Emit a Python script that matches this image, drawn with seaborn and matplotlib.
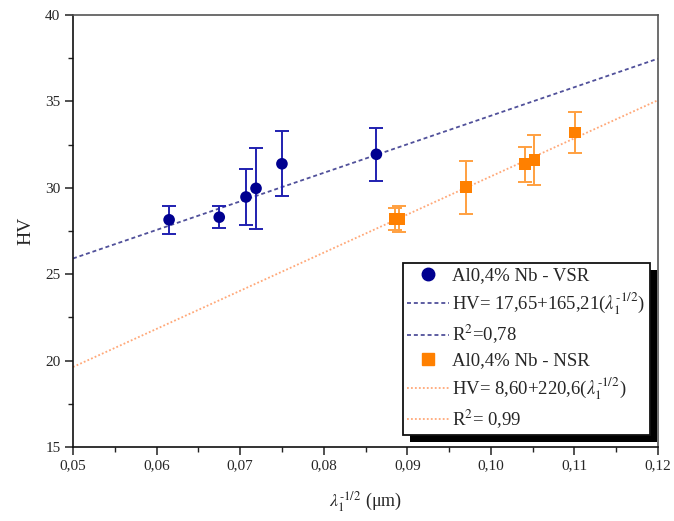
import numpy as np
import pandas as pd
import matplotlib
matplotlib.use("Agg")
import matplotlib.pyplot as plt
from matplotlib.lines import Line2D
from matplotlib.patches import Rectangle
from matplotlib.ticker import MultipleLocator, FuncFormatter
import seaborn as sns

# Hardness vs. inverse square root of primary dendrite arm spacing
vsr_x = [0.0615, 0.0675, 0.0707, 0.0719, 0.0750, 0.0863]
vsr_hv = [28.15, 28.30, 29.47, 29.97, 31.39, 31.94]
vsr_err = [0.80, 0.65, 1.60, 2.33, 1.88, 1.55]

nsr_x = [0.0885, 0.0890, 0.0970, 0.1041, 0.1052, 0.1101]
nsr_hv = [28.19, 28.19, 30.03, 31.36, 31.61, 33.21]
nsr_err = [0.64, 0.77, 1.53, 1.03, 1.42, 1.18]

# Linear fits  HV = a + b * lambda1^(-1/2)
vsr_fit = (17.65, 165.21)
nsr_fit = (8.60, 220.6)

labels = [
    "Al0,4% Nb - VSR",
    r"HV= 17,65+165,21($\lambda_1^{\text{-1/2}}$)",
    r"R$^2$=0,78",
    "Al0,4% Nb - NSR",
    r"HV= 8,60+220,6($\lambda_1^{\text{-1/2}}$)",
    r"R$^2$= 0,99",
]

sns.set_theme(style="ticks")
plt.rcParams["font.family"] = ["Liberation Serif", "DejaVu Serif"]
plt.rcParams["mathtext.fontset"] = "stix"

blue_mk = "#000090"
blue_eb = "#2020b0"
blue_ln = "#50509a"
orange_mk = "#ff8000"
orange_eb = "#ffa040"
orange_ln = "#ffa878"

fig = plt.figure(figsize=(6.74, 5.21), dpi=100)
ax = fig.add_axes([0.1083, 0.1420, 0.8680, 0.8292])

xx = np.array([0.05, 0.12])
fits = pd.DataFrame({
    "x": np.concatenate([xx, xx]),
    "hv": np.concatenate([vsr_fit[0] + vsr_fit[1] * xx, nsr_fit[0] + nsr_fit[1] * xx]),
    "serie": ["VSR"] * 2 + ["NSR"] * 2,
})
sns.lineplot(data=fits[fits.serie == "VSR"], x="x", y="hv", ax=ax, color=blue_ln,
             lw=1.3, linestyle=(0, (2.2, 1.6)), zorder=2)
sns.lineplot(data=fits[fits.serie == "NSR"], x="x", y="hv", ax=ax, color=orange_ln,
             lw=1.3, linestyle=(0, (1, 1.2)), zorder=2)

ax.errorbar(vsr_x, vsr_hv, yerr=vsr_err, fmt="none", ecolor=blue_eb, elinewidth=1.4,
            capsize=5, capthick=1.4, zorder=3)
ax.errorbar(nsr_x, nsr_hv, yerr=nsr_err, fmt="none", ecolor=orange_eb, elinewidth=1.4,
            capsize=5, capthick=1.4, zorder=3)

pts = pd.DataFrame({
    "x": vsr_x + nsr_x,
    "hv": vsr_hv + nsr_hv,
    "serie": ["VSR"] * len(vsr_x) + ["NSR"] * len(nsr_x),
})
sns.scatterplot(data=pts, x="x", y="hv", hue="serie", style="serie",
                palette={"VSR": blue_mk, "NSR": orange_mk},
                markers={"VSR": "o", "NSR": "s"}, s=70, edgecolor="none",
                legend=False, ax=ax, zorder=4)

ax.set_xlim(0.05, 0.12)
ax.set_ylim(15, 40)
ax.xaxis.set_major_locator(MultipleLocator(0.01))
ax.xaxis.set_minor_locator(MultipleLocator(0.005))
ax.yaxis.set_major_locator(MultipleLocator(5))
ax.yaxis.set_minor_locator(MultipleLocator(2.5))
ax.xaxis.set_major_formatter(FuncFormatter(lambda v, p: f"{v:.2f}".replace(".", ",")))
ax.yaxis.set_major_formatter(FuncFormatter(lambda v, p: f"{v:.0f}"))
ax.tick_params(which="major", direction="out", length=5.5, width=1.1, labelsize=11, color="#222222")
ax.tick_params(which="minor", direction="out", length=3.5, width=1.0, color="#222222")
for side in ["left", "bottom"]:
    ax.spines[side].set_color("#111111")
    ax.spines[side].set_linewidth(1.2)
for side in ["top", "right"]:
    ax.spines[side].set_visible(True)
    ax.spines[side].set_color("#555555")
    ax.spines[side].set_linewidth(1.2)

ax.set_ylabel("HV", fontsize=14, labelpad=8)
ax.set_xlabel(r"$\lambda_1^{\text{-1/2}}$ (μm)", fontsize=13, labelpad=12)

handles = [
    Line2D([], [], marker="o", color=blue_mk, linestyle="none", markersize=9),
    Line2D([], [], color=blue_ln, lw=1.3, linestyle=(0, (2.2, 1.6))),
    Line2D([], [], color=blue_ln, lw=1.3, linestyle=(0, (2.2, 1.6))),
    Line2D([], [], marker="s", color=orange_mk, linestyle="none", markersize=8.5),
    Line2D([], [], color=orange_ln, lw=1.3, linestyle=(0, (1, 1.2))),
    Line2D([], [], color=orange_ln, lw=1.3, linestyle=(0, (1, 1.2))),
]
leg = ax.legend(handles, labels, loc="upper left", bbox_to_anchor=(0.5636, 0.4266),
                borderaxespad=0, fontsize=13.5, frameon=True, fancybox=False,
                framealpha=1, edgecolor="#111111", handlelength=2.2,
                handletextpad=0.2, labelspacing=0.32, borderpad=0.25)
leg.get_frame().set_linewidth(1.3)
leg.set_zorder(6)

# solid black drop shadow behind the legend box
fig.canvas.draw()
bb = leg.get_window_extent()
shadow = Rectangle((bb.x0 + 7, bb.y0 - 7), bb.width, bb.height, transform=None,
                   facecolor="black", edgecolor="none", zorder=5.5, clip_on=False)
ax.add_artist(shadow)

fig.savefig("out.png", dpi=100)
